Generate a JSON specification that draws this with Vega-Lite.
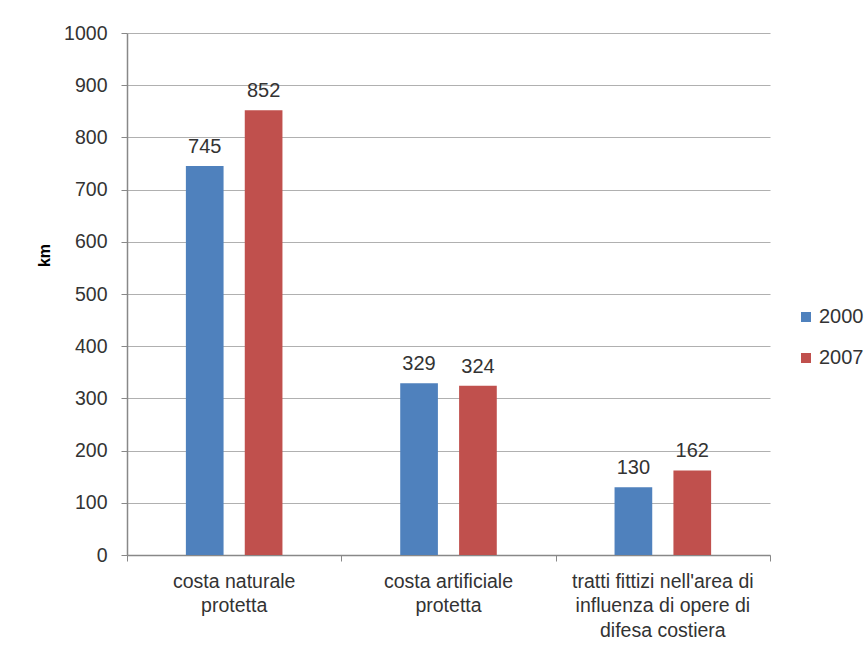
{
  "$schema": "https://vega.github.io/schema/vega-lite/v6.json",
  "autosize": {"type": "none"},
  "width": 643,
  "height": 522,
  "padding": {"left": 127, "top": 33, "right": 98, "bottom": 98},
  "background": "white",
  "config": {
    "font": "Liberation Sans",
    "view": {"stroke": null}
  },
  "data": {
    "values": [
      {"categoria": "costa naturale protetta", "anno": "2000", "km": 745},
      {"categoria": "costa naturale protetta", "anno": "2007", "km": 852},
      {"categoria": "costa artificiale protetta", "anno": "2000", "km": 329},
      {"categoria": "costa artificiale protetta", "anno": "2007", "km": 324},
      {"categoria": "tratti fittizi nell'area di influenza di opere di difesa costiera", "anno": "2000", "km": 130},
      {"categoria": "tratti fittizi nell'area di influenza di opere di difesa costiera", "anno": "2007", "km": 162}
    ]
  },
  "resolve": {"axis": {"x": "independent"}},
  "encoding": {
    "xOffset": {
      "field": "anno",
      "type": "nominal",
      "scale": {"paddingInner": 0.36, "paddingOuter": 1.2}
    },
    "y": {
      "field": "km",
      "type": "quantitative",
      "scale": {"domain": [0, 1000]},
      "axis": {
        "title": "km",
        "titleFontSize": 16,
        "titleFontWeight": "bold",
        "titleColor": "#000000",
        "titleX": -75,
        "titleY": 222,
        "titleAngle": -90,
        "format": "d",
        "values": [0, 100, 200, 300, 400, 500, 600, 700, 800, 900, 1000],
        "labelFontSize": 19.5,
        "labelColor": "#333333",
        "labelPadding": 14,
        "tickSize": 6,
        "tickColor": "#888888",
        "domainColor": "#888888",
        "domainWidth": 1.5,
        "gridColor": "#b0b0b0",
        "gridWidth": 1.2
      }
    }
  },
  "layer": [
    {
      "mark": {"type": "bar"},
      "encoding": {
        "x": {
          "field": "categoria",
          "type": "nominal",
          "sort": null,
          "scale": {"paddingInner": 0, "paddingOuter": 0},
          "axis": {
            "orient": "bottom",
            "title": null,
            "labels": false,
            "grid": false,
            "tickBand": "extent",
            "tickSize": 6,
            "tickColor": "#888888",
            "domainColor": "#888888",
            "domainWidth": 1.5
          }
        },
        "color": {
          "field": "anno",
          "type": "nominal",
          "scale": {"domain": ["2000", "2007"], "range": ["#4F81BD", "#C0504D"]},
          "legend": {
            "title": null,
            "orient": "none",
            "legendX": 669,
            "legendY": 274,
            "symbolType": "square",
            "symbolSize": 100,
            "symbolStrokeWidth": 0,
            "labelFontSize": 20,
            "labelColor": "#333333",
            "rowPadding": 21,
            "labelOffset": 3
          }
        }
      }
    },
    {
      "mark": {"type": "text", "baseline": "bottom", "dy": -9, "fontSize": 20, "color": "#333333"},
      "encoding": {
        "x": {
          "field": "categoria",
          "type": "nominal",
          "sort": null,
          "axis": {
            "orient": "bottom",
            "title": null,
            "labelAngle": 0,
            "labelFontSize": 19.5,
            "labelLimit": 400,
            "labelColor": "#333333",
            "labelLineHeight": 24.5,
            "labelPadding": 17,
            "labelBaseline": "top",
            "ticks": false,
            "domain": false,
            "grid": false,
            "labelExpr": "datum.value == 'costa naturale protetta' ? ['costa naturale', 'protetta'] : datum.value == 'costa artificiale protetta' ? ['costa artificiale', 'protetta'] : ['tratti fittizi nell\\'area di', 'influenza di opere di', 'difesa costiera']"
          }
        },
        "text": {"field": "km", "type": "quantitative"}
      }
    }
  ]
}
